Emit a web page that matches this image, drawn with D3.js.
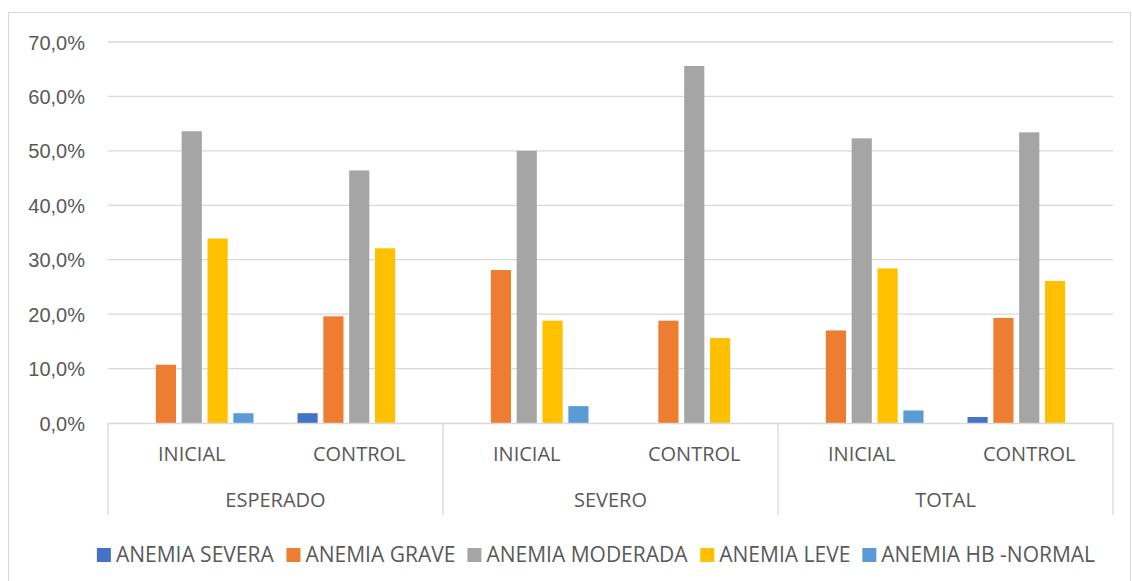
<!DOCTYPE html>
<html>
<head>
<meta charset="utf-8">
<script src="https://cdn.jsdelivr.net/npm/d3@7"></script>
<style>
  body { margin: 0; background: #fff; }
  svg { display: block; font-family: "Open Sans", sans-serif; }
  .tick text { fill: #595959; font-size: 20px; }
</style>
</head>
<body>
<svg id="chart"></svg>
<script>
// data (percentages)
var groups = ["ESPERADO", "SEVERO", "TOTAL"];
var subCats = ["INICIAL", "CONTROL"];
var seriesNames = ["ANEMIA SEVERA", "ANEMIA GRAVE", "ANEMIA MODERADA", "ANEMIA LEVE", "ANEMIA HB -NORMAL"];
var seriesColors = ["#4472C4", "#ED7D31", "#A5A5A5", "#FFC000", "#5B9BD5"];
var anemiaSevera   = [0, 1.8, 0, 0, 0, 1.1];
var anemiaGrave    = [10.7, 19.6, 28.1, 18.8, 17.0, 19.3];
var anemiaModerada = [53.6, 46.4, 50.0, 65.6, 52.3, 53.4];
var anemiaLeve     = [33.9, 32.1, 18.8, 15.6, 28.4, 26.1];
var anemiaNormal   = [1.8, 0, 3.1, 0, 2.3, 0];
var yTicks = [0, 10, 20, 30, 40, 50, 60, 70];

var seriesValues = [anemiaSevera, anemiaGrave, anemiaModerada, anemiaLeve, anemiaNormal];

var W = 1132, H = 581;
var margin = {top: 42, left: 108, right: 19, bottom: 158};
var width = W - margin.left - margin.right;
var height = H - margin.top - margin.bottom;
var textColor = "#595959", lineColor = "#D9D9D9";

var svg = d3.select("#chart").attr("width", W).attr("height", H);

// chart border
svg.append("rect")
    .attr("x", 8.5).attr("y", 12.5)
    .attr("width", 1122).attr("height", 600)
    .attr("fill", "none").attr("stroke", lineColor);

var g = svg.append("g")
    .attr("transform", "translate(" + margin.left + "," + margin.top + ")");

// one key per (group, sub category)
var keys = [];
groups.forEach(function (gr) {
    subCats.forEach(function (s) { keys.push(gr + "|" + s); });
});

var x0 = d3.scaleBand().domain(keys).range([0, width]);
var x1 = d3.scaleBand().domain(seriesNames)
    .range([22, x0.bandwidth() - 22])
    .paddingInner(0.22);
var y = d3.scaleLinear().domain([0, 70]).range([height, 0]);

var locale = d3.formatLocale({decimal: ",", thousands: ".", grouping: [3], currency: ["", ""]});
var fmt = locale.format(".1f");

// gridlines
g.selectAll(".grid").data(yTicks.slice(1)).enter()
    .append("line")
    .attr("x1", 0).attr("x2", width)
    .attr("y1", function (d) { return y(d); })
    .attr("y2", function (d) { return y(d); })
    .attr("stroke", lineColor).attr("stroke-width", 1.3);

// y axis labels
var yAxis = d3.axisLeft(y).tickValues(yTicks).tickSize(0).tickPadding(23)
    .tickFormat(function (d) { return fmt(d) + "%"; });
g.append("g").call(yAxis)
    .call(function (a) { a.select(".domain").remove(); })
    .selectAll("text").attr("dy", "0.35em");

// bars
var rows = keys.map(function (k, i) {
    return seriesNames.map(function (s, j) { return {key: k, series: s, value: seriesValues[j][i], color: seriesColors[j]}; });
});

var grp = g.selectAll(".grp").data(rows).enter()
    .append("g")
    .attr("transform", function (d, i) { return "translate(" + x0(keys[i]) + ",0)"; });

grp.selectAll("rect").data(function (d) { return d.filter(function (e) { return e.value > 0; }); }).enter()
    .append("rect")
    .attr("x", function (d) { return x1(d.series); })
    .attr("width", x1.bandwidth())
    .attr("y", function (d) { return y(d.value); })
    .attr("height", function (d) { return height - y(d.value); })
    .attr("fill", function (d) { return d.color; });

// category axis: baseline + separators
g.append("line")
    .attr("x1", 0).attr("x2", width)
    .attr("y1", height + 0.5).attr("y2", height + 0.5)
    .attr("stroke", lineColor).attr("stroke-width", 1.3);

var groupW = width / groups.length;
g.selectAll(".sep").data(d3.range(groups.length + 1)).enter()
    .append("line")
    .attr("x1", function (d) { return d * groupW; })
    .attr("x2", function (d) { return d * groupW; })
    .attr("y1", height).attr("y2", height + 92)
    .attr("stroke", lineColor).attr("stroke-width", 1.3);

g.selectAll(".subLabel").data(keys).enter()
    .append("text")
    .attr("x", function (d) { return x0(d) + x0.bandwidth() / 2; })
    .attr("y", height + 38)
    .attr("text-anchor", "middle")
    .attr("fill", textColor).attr("font-size", 20)
    .text(function (d) { return d.split("|")[1]; });

g.selectAll(".groupLabel").data(groups).enter()
    .append("text")
    .attr("x", function (d, i) { return (i + 0.5) * groupW; })
    .attr("y", height + 84)
    .attr("text-anchor", "middle")
    .attr("fill", textColor).attr("font-size", 20)
    .text(function (d) { return d; });

// legend
var legend = svg.append("g");
var item = legend.selectAll(".item").data(seriesNames).enter().append("g");
item.append("rect")
    .attr("width", 14).attr("height", 14).attr("y", -7)
    .attr("fill", function (d, i) { return seriesColors[i]; });
item.append("text")
    .attr("x", 19).attr("dy", "0.35em")
    .attr("fill", textColor).attr("font-size", 21)
    .text(function (d) { return d; });

var pos = 0;
item.each(function () {
    var w = this.getBBox().width;
    d3.select(this).attr("transform", "translate(" + pos + ",0)");
    pos += w + 12;
});
var total = pos - 12;
legend.attr("transform", "translate(" + (596 - total / 2) + ",555)");
</script>
</body>
</html>
